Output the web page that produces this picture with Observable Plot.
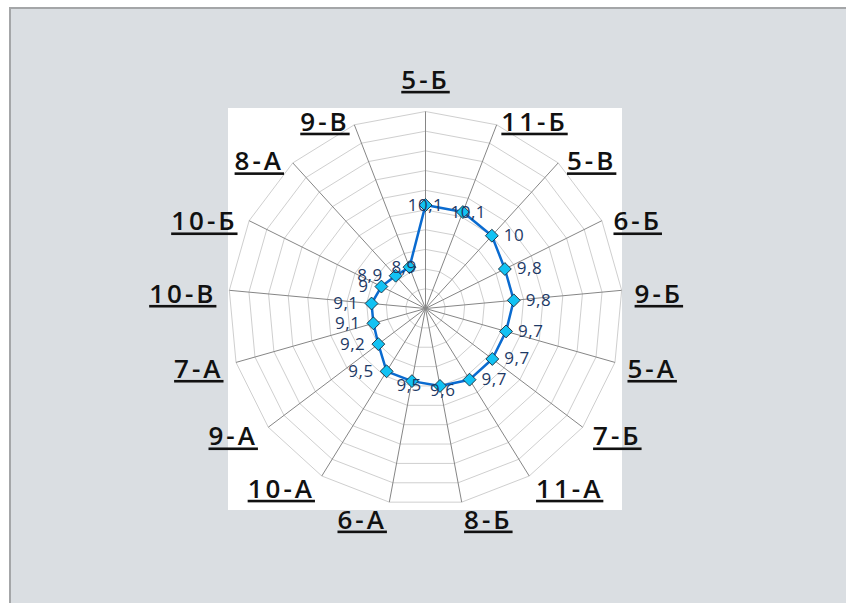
<!DOCTYPE html>
<html>
<head>
<meta charset="utf-8">
<script src="https://cdn.jsdelivr.net/npm/d3@7"></script>
<script src="https://cdn.jsdelivr.net/npm/@observablehq/plot@0.6"></script>
<style>
  html, body { margin: 0; padding: 0; background: #ffffff; width: 846px; height: 603px; overflow: hidden; }
  #bg { position: absolute; left: 9px; top: 7px; width: 837px; height: 596px; box-sizing: border-box;
        background: #dadee2; border-top: 2px solid #a4a6a8; border-left: 2px solid #a4a6a8; }
  #chart { position: absolute; left: 0; top: 0; }
  g[font-size="26"] text { letter-spacing: 3px; text-decoration: underline; text-decoration-thickness: 2px; text-underline-offset: 4px; }
  g[font-size="17"] text { letter-spacing: 0.5px; }
</style>
</head>
<body>
<div id="bg"></div>
<div id="chart"></div>
<script>
// ---- data ----
const categories = ["5-Б","11-Б","5-В","6-Б","9-Б","5-А","7-Б","11-А","8-Б","6-А","10-А","9-А","7-А","10-В","10-Б","8-А","9-В"];
const values = [10.1, 10.1, 10, 9.8, 9.8, 9.7, 9.7, 9.7, 9.6, 9.5, 9.5, 9.2, 9.1, 9.1, 9, 8.9, 8.9];
const axisMin = 8, axisMax = 12, ringStep = 0.4;

// ---- geometry ----
const W = 846, H = 603;
const cx = 425, cy = 308;       // center in page pixels
const R = 197;                  // outer radius px
const rScale = d3.scaleLinear().domain([axisMin, axisMax]).range([0, R]);
const n = categories.length;
const ang = i => i * 2 * Math.PI / n;
const polar = (i, r) => ({x: r * Math.sin(ang(i)), y: r * Math.cos(ang(i))});

const ringValues = d3.range(1, Math.round((axisMax - axisMin) / ringStep) + 1).map(k => +(axisMin + k * ringStep).toFixed(2));
const rings = ringValues.flatMap(v => d3.range(n + 1).map(i => ({ring: v, ...polar(i % n, rScale(v))})));
const spokes = categories.map((c, i) => ({x1: 0, y1: 0, x2: polar(i, R).x, y2: polar(i, R).y}));

const data = categories.map((c, i) => {
  const p = polar(i, rScale(values[i]));
  const s = Math.sin(ang(i)), co = Math.cos(ang(i));
  let anchor, lx, ly;
  if (Math.abs(s) < 0.4) { anchor = "middle"; lx = p.x + 15 * s; ly = p.y - 5 * Math.max(0, -co); }
  else if (s > 0) { anchor = "start"; lx = p.x + 12; ly = p.y; }
  else { anchor = "end"; lx = p.x - 13; ly = p.y; }
  return {cat: c, v: values[i], x: p.x, y: p.y, anchor, lx, ly, label: String(values[i]).replace(".", ",")};
});
const loop = [...data, data[0]];

const catLabels = categories.map((c, i) => {
  const s = Math.sin(ang(i)), co = Math.cos(ang(i));
  const top = Math.abs(s) < 0.05;
  const anchor = top ? "middle" : (s > 0 ? "start" : "end");
  const y = 205 * co - 5 + (top ? 28 : 0) + (co < 0 ? -6 * Math.pow(co, 8) : 0);
  return {cat: c, x: 210 * s, y, anchor};
});

const fontLab = "'Open Sans', 'Noto Sans', sans-serif";
const chart = Plot.plot({
  width: W, height: H,
  marginTop: 0, marginRight: 0, marginBottom: 0, marginLeft: 0,
  x: {domain: [-cx, W - cx], axis: null},
  y: {domain: [cy - H, cy], axis: null},
  style: {background: "transparent", overflow: "visible"},
  marks: [
    Plot.rect([{}], {x1: -R, x2: R, y1: -R - 5, y2: R + 3, fill: "#ffffff"}),
    Plot.line(rings, {x: "x", y: "y", z: "ring", stroke: "#cfcfcf", strokeWidth: 1}),
    Plot.link(spokes, {x1: "x1", y1: "y1", x2: "x2", y2: "y2", stroke: "#868686", strokeWidth: 1}),
    Plot.line(loop, {x: "x", y: "y", stroke: "#0a6bd0", strokeWidth: 2.5}),
    Plot.dot(data, {x: "x", y: "y", symbol: "diamond2", r: 5.8, fill: "#12c2f3", stroke: "#1a2a3a", strokeWidth: 0.9}),
    ...["start", "end", "middle"].map(a =>
      Plot.text(data.filter(d => d.anchor === a), {x: "lx", y: "ly", text: "label", textAnchor: a,
        fill: "#1e3a66", fontSize: 17, fontFamily: fontLab})),
    ...["start", "end", "middle"].map(a =>
      Plot.text(catLabels.filter(d => d.anchor === a), {x: "x", y: "y", text: "cat", textAnchor: a,
        fill: "#111111", fontSize: 26, fontWeight: 600, fontFamily: fontLab}))
  ]
});
document.getElementById("chart").appendChild(chart);
</script>
</body>
</html>
